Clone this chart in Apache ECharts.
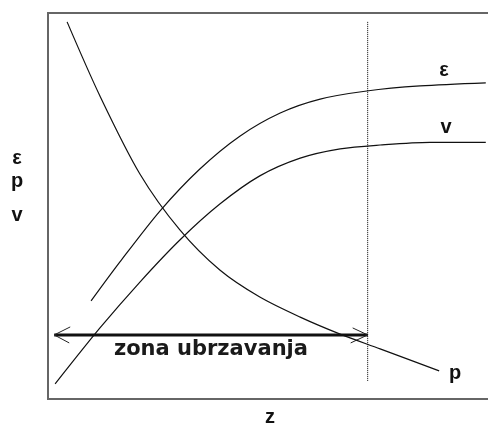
<!DOCTYPE html>
<html>
<head>
<meta charset="utf-8">
<script src="https://cdn.jsdelivr.net/npm/echarts@6/dist/echarts.min.js"></script>
<style>
  html, body { margin: 0; padding: 0; background: #fff; }
  #chart { width: 488px; height: 427px; }
</style>
</head>
<body>
<div id="chart"></div>
<script>
// Pressure p falls along z while the void fraction ε and the velocity v rise and level off.
const pZ   = [4.3, 11.7, 20.7, 29.7, 38.7, 47.7, 56.8, 65.8, 74.8, 88.1];
const pVal = [97.7, 78.5, 58.3, 43.8, 33.4, 26.4, 21.2, 16.8, 13.0, 7.3];

const epsZ   = [9.7, 16.2, 25.2, 34.2, 43.2, 52.3, 61.3, 71.8, 83.8, 98.6];
const epsVal = [25.4, 35.5, 48.7, 59.6, 68.1, 74.1, 77.7, 79.8, 81.1, 81.9];

const vZ   = [1.6, 11.7, 20.7, 29.7, 38.7, 47.7, 56.8, 65.8, 74.8, 86.0, 98.6];
const vVal = [3.9, 18.4, 30.3, 41.2, 50.5, 57.8, 62.4, 64.8, 65.8, 66.5, 66.5];

// Extent of the acceleration zone and the level of its double arrow
const zoneStart = 1.4;
const zoneEnd = 72;
const zoneLevel = 16.6;
const zoneTop = 97.7;
const zoneBottom = 4.7;
const zoneLabel = 'zona ubrzavanja';

const pairs = (xs, ys) => xs.map((x, i) => [x, ys[i]]);

const curveStyle = { color: '#111', width: 1.2 };

function label(text, x, y) {
  return {
    type: 'text', x: x, y: y,
    style: {
      text: text, fontFamily: '"Liberation Sans", Arial, sans-serif', fontWeight: 'bold',
      fontSize: 20, fill: '#111', align: 'center', verticalAlign: 'middle'
    }
  };
}

const chart = echarts.init(document.getElementById('chart'), null, { renderer: 'canvas' });

chart.setOption({
  animation: false,
  backgroundColor: '#fff',
  grid: {
    show: true, left: 48, right: -4, top: 13, bottom: 28,
    outerBoundsMode: 'none', containLabel: false,
    borderColor: '#666', borderWidth: 2, backgroundColor: 'transparent'
  },
  xAxis: {
    type: 'value', min: 0, max: 100,
    axisLine: { show: false }, axisTick: { show: false },
    axisLabel: { show: false }, splitLine: { show: false }
  },
  yAxis: {
    type: 'value', min: 0, max: 100,
    axisLine: { show: false }, axisTick: { show: false },
    axisLabel: { show: false }, splitLine: { show: false }
  },
  series: [
    {
      name: 'p', type: 'line', data: pairs(pZ, pVal), smooth: 0.3,
      showSymbol: false, lineStyle: curveStyle
    },
    {
      name: 'ε', type: 'line', data: pairs(epsZ, epsVal), smooth: 0.3,
      showSymbol: false, lineStyle: curveStyle
    },
    {
      name: 'v', type: 'line', data: pairs(vZ, vVal), smooth: 0.3,
      showSymbol: false, lineStyle: curveStyle
    },
    {
      name: 'granica', type: 'line',
      data: [[zoneEnd, zoneBottom], [zoneEnd, zoneTop]],
      showSymbol: false,
      lineStyle: { color: '#000', width: 1, type: [1, 1] }
    },
    {
      name: 'zona', type: 'custom',
      data: [[zoneStart, zoneEnd, zoneLevel]],
      renderItem: function (params, api) {
        const a = api.coord([api.value(0), api.value(2)]);
        const b = api.coord([api.value(1), api.value(2)]);
        return {
          type: 'group',
          children: [
            { type: 'line', shape: { x1: a[0], y1: a[1], x2: b[0], y2: b[1] },
              style: { stroke: '#111', lineWidth: 3 } },
            { type: 'polyline', shape: { points: [[a[0] + 16, a[1] - 8], [a[0], a[1]], [a[0] + 15, a[1] + 8]] },
              style: { stroke: '#222', lineWidth: 1, fill: null } },
            { type: 'polyline', shape: { points: [[b[0] - 15, b[1] - 7], [b[0], b[1]], [b[0] - 17, b[1] + 8]] },
              style: { stroke: '#222', lineWidth: 1, fill: null } },
            { type: 'text', x: (a[0] + b[0]) / 2, y: a[1] + 15,
              style: { text: zoneLabel, fontFamily: '"DejaVu Sans", sans-serif', fontWeight: 'bold',
                       fontSize: 21, fill: '#1a1a1a', align: 'center', verticalAlign: 'middle' } }
          ]
        };
      }
    }
  ],
  graphic: [
    label('ε', 17, 158),
    label('p', 17, 181),
    label('v', 17, 215),
    label('z', 270, 417),
    label('ε', 444, 70),
    label('v', 446, 127),
    label('p', 455, 373)
  ]
});
</script>
</body>
</html>
